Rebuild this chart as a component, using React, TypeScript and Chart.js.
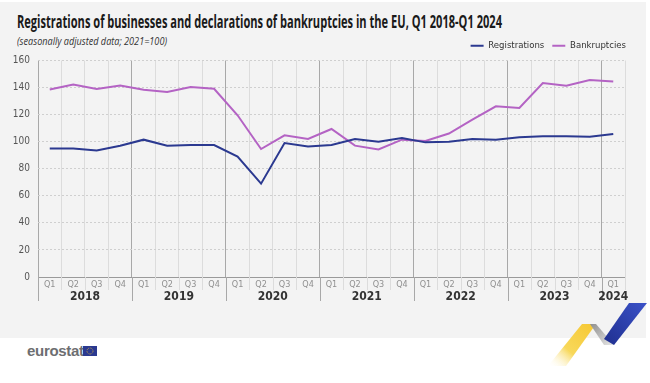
import React, { useEffect, useLayoutEffect, useRef } from "react";
import { Chart, registerables } from "chart.js";

Chart.register(...registerables);

const quarterLabels = [
  "Q1", "Q2", "Q3", "Q4",
  "Q1", "Q2", "Q3", "Q4",
  "Q1", "Q2", "Q3", "Q4",
  "Q1", "Q2", "Q3", "Q4",
  "Q1", "Q2", "Q3", "Q4",
  "Q1", "Q2", "Q3", "Q4",
  "Q1",
];
const yearLabels = [
  "2018", "2018", "2018", "2018",
  "2019", "2019", "2019", "2019",
  "2020", "2020", "2020", "2020",
  "2021", "2021", "2021", "2021",
  "2022", "2022", "2022", "2022",
  "2023", "2023", "2023", "2023",
  "2024",
];
const registrations = [
  95, 95, 93.5, 97,
  101.5, 97, 97.5, 97.5,
  89, 69, 99, 96.5,
  97.5, 102, 100, 102.7,
  99.5, 100, 102, 101.5,
  103.3, 104, 104, 103.7,
  105.7,
];
const bankruptcies = [
  138.6, 142.3, 138.9, 141.6,
  138.4, 136.7, 140.4, 139.1,
  119.5, 94.6, 104.7, 102,
  109.4, 97.1, 94.2, 101.5,
  100.5, 106, 116.3, 126.1,
  124.9, 143.3, 141.3, 145.5,
  144.5,
];
const yTicks = [0, 20, 40, 60, 80, 100, 120, 140, 160];

const FONT = "'DejaVu Sans Condensed', 'Liberation Sans Narrow', Arial, sans-serif";
const HFONT = "'Open Sans', 'Noto Sans', Arial, sans-serif";

const yearPlugin = {
  id: "yearPlugin",
  afterDraw(chart: any) {
    const { ctx, chartArea } = chart;
    const x = chart.scales.x;
    const n = quarterLabels.length;
    const half = (x.getPixelForValue(1) - x.getPixelForValue(0)) / 2;
    const bottom = chartArea.bottom;
    ctx.save();
    for (let i = 0; i <= n; i++) {
      const px = Math.round(i < n ? x.getPixelForValue(i) - half : x.getPixelForValue(n - 1) + half) + 0.5;
      const isYear = i < n && quarterLabels[i] === "Q1";
      ctx.beginPath();
      ctx.strokeStyle = isYear ? "#a8a8a8" : "#dcdcdc";
      ctx.lineWidth = 1;
      ctx.moveTo(px, bottom);
      ctx.lineTo(px, isYear ? bottom + 24 : bottom + 13);
      ctx.stroke();
    }
    const groups: Record<string, number[]> = {};
    yearLabels.forEach((yr, i) => {
      (groups[yr] = groups[yr] || []).push(i);
    });
    ctx.fillStyle = "#333333";
    ctx.font = `bold 12px ${FONT}`;
    ctx.textAlign = "center";
    ctx.textBaseline = "middle";
    Object.keys(groups).forEach((yr) => {
      const idx = groups[yr];
      const c = (x.getPixelForValue(idx[0]) + x.getPixelForValue(idx[idx.length - 1])) / 2;
      ctx.fillText(yr, c, bottom + 20);
    });
    ctx.restore();
  },
};

export default function App() {
  const ref = useRef<HTMLCanvasElement | null>(null);
  const titleRef = useRef<HTMLDivElement | null>(null);
  const subRef = useRef<HTMLDivElement | null>(null);

  useLayoutEffect(() => {
    const fit = (el: HTMLDivElement | null, target: number) => {
      if (!el) return;
      el.style.transform = "none";
      const w = el.getBoundingClientRect().width;
      if (w > 0) el.style.transform = `scaleX(${target / w})`;
    };
    fit(titleRef.current, 485);
    fit(subRef.current, 150);
  }, []);

  useEffect(() => {
    if (!ref.current) return;
    const chart = new Chart(ref.current, {
      type: "line",
      data: {
        labels: quarterLabels,
        datasets: [
          {
            label: "Registrations",
            data: registrations,
            borderColor: "#2b3990",
            backgroundColor: "#2b3990",
            borderWidth: 2,
            pointRadius: 0,
            tension: 0,
          },
          {
            label: "Bankruptcies",
            data: bankruptcies,
            borderColor: "#b463c4",
            backgroundColor: "#b463c4",
            borderWidth: 2,
            pointRadius: 0,
            tension: 0,
          },
        ],
      },
      options: {
        animation: false,
        responsive: false,
        maintainAspectRatio: false,
        layout: { padding: { left: 0, right: 10, top: 0, bottom: 0 } },
        plugins: {
          legend: {
            position: "top",
            align: "end",
            labels: {
              usePointStyle: true,
              pointStyle: "line",
              pointStyleWidth: 13,
              boxHeight: 10,
              padding: 8,
              color: "#333333",
              font: { family: FONT, size: 9.5 },
            },
          },
          tooltip: { enabled: false },
          title: { display: false },
        },
        scales: {
          x: {
            type: "category",
            offset: true,
            grid: {
              offset: true,
              drawTicks: false,
              color: (c: any) => (c.index % 4 === 0 ? "#a8a8a8" : "#dcdcdc"),
              lineWidth: 1,
            },
            border: { display: true, color: "#9a9a9a", width: 1 },
            ticks: {
              color: "#909090",
              font: { family: FONT, size: 9 },
              padding: 2,
              maxRotation: 0,
              autoSkip: false,
            },
            afterFit: (s: any) => {
              s.height = 31;
            },
          },
          y: {
            min: 0,
            max: 160,
            afterBuildTicks: (s: any) => {
              s.ticks = yTicks.map((v) => ({ value: v }));
            },
            grid: {
              color: "#cfcfcf",
              drawTicks: false,
              lineWidth: 1,
            },
            border: { display: false, dash: [2, 2] },
            ticks: {
              color: "#555555",
              font: { family: FONT, size: 10 },
              padding: 8,
            },
            afterFit: (s: any) => {
              s.width = 38;
            },
          },
          spacer: {
            type: "linear",
            position: "right",
            min: 0,
            max: 160,
            grid: { display: false, drawTicks: false },
            border: { display: false },
            ticks: { display: false },
            afterFit: (s: any) => {
              s.width = 9;
            },
          },
        },
      },
      plugins: [yearPlugin],
    } as any);
    return () => chart.destroy();
  }, []);

  return (
    <div style={{ position: "absolute", left: 0, top: 0, width: 650, height: 383, background: "#ffffff", overflow: "hidden" }}>
      <div style={{ position: "absolute", left: 0, top: 2, width: 646, height: 336, background: "#f3f3f3" }} />
      <div
        ref={titleRef}
        style={{ position: "absolute", left: 17, top: 9, fontFamily: HFONT, fontWeight: "bold", fontSize: 18, color: "#1a1a1a", whiteSpace: "nowrap", transformOrigin: "0 0" }}
      >
        Registrations of businesses and declarations of bankruptcies in the EU, Q1 2018-Q1 2024
      </div>
      <div
        ref={subRef}
        style={{ position: "absolute", left: 17, top: 33, fontFamily: HFONT, fontStyle: "italic", fontSize: 11, color: "#333333", whiteSpace: "nowrap", transformOrigin: "0 0" }}
      >
        (seasonally adjusted data; 2021=100)
      </div>
      <canvas ref={ref} width={644} height={275} style={{ position: "absolute", left: 0, top: 33, width: 644, height: 275 }} />
      <div style={{ position: "absolute", left: 27, top: 342, fontFamily: "'Liberation Sans', Arial, sans-serif", fontWeight: "bold", fontSize: 15, color: "#6d6e71", letterSpacing: -0.3 }}>
        eurostat
      </div>
      <svg style={{ position: "absolute", left: 0, top: 0 }} width={650} height={383}>
        <defs>
          <linearGradient id="yl" x1="1" y1="0" x2="0" y2="1">
            <stop offset="0" stopColor="#f6c731" />
            <stop offset="0.6" stopColor="#f8d85a" />
            <stop offset="1" stopColor="#ffffff" stopOpacity="0" />
          </linearGradient>
          <linearGradient id="gr" x1="0" y1="0" x2="1" y2="1">
            <stop offset="0" stopColor="#8f8f8f" />
            <stop offset="1" stopColor="#e8e8e8" />
          </linearGradient>
          <linearGradient id="bl" x1="0" y1="1" x2="1" y2="0">
            <stop offset="0" stopColor="#1f2f8f" />
            <stop offset="1" stopColor="#3b52c8" />
          </linearGradient>
        </defs>
        <rect x={83} y={346} width={14} height={10} fill="#2b3990" />
        <circle cx={90} cy={351} r={3} fill="none" stroke="#f6c731" strokeWidth={0.8} strokeDasharray="0.8 0.9" />
        <polygon points="582,324 596,324 566,366 548,366" fill="url(#yl)" />
        <polygon points="590,324 596,324 614,345 604,345" fill="url(#gr)" />
        <polygon points="604,339 629,303 647,303 614,345" fill="url(#bl)" />
      </svg>
    </div>
  );
}
